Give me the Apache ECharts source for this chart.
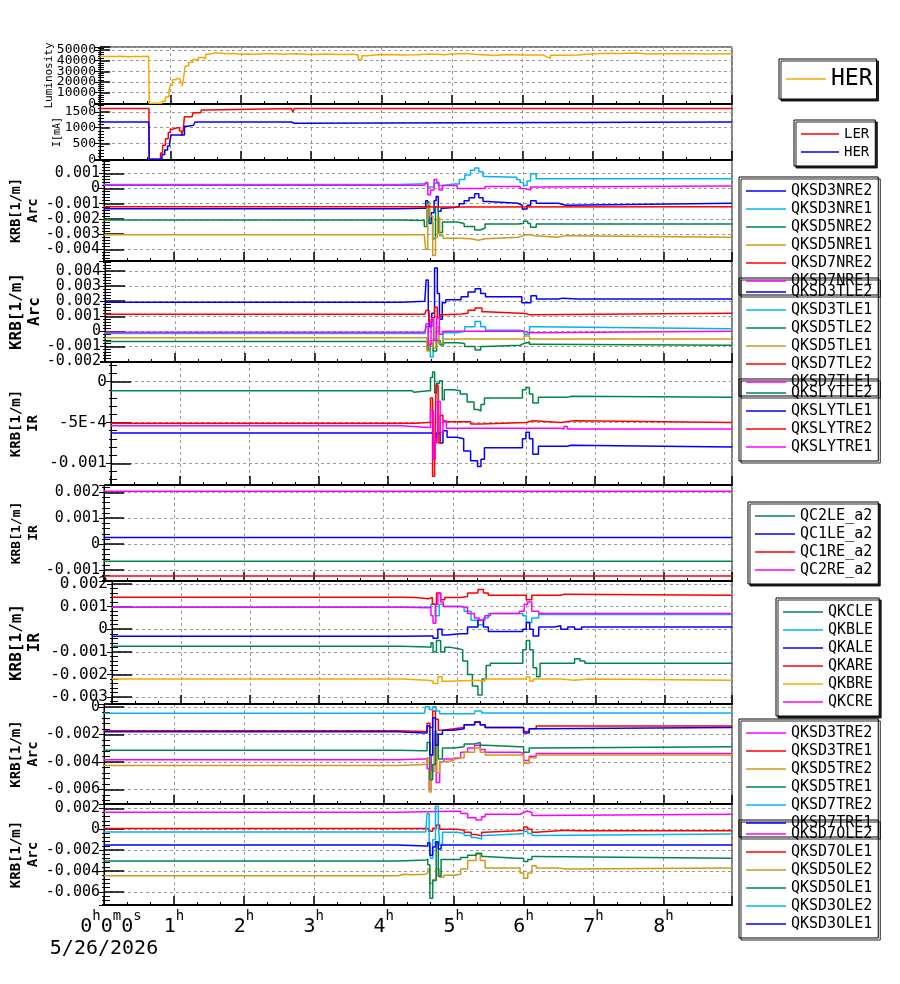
<!DOCTYPE html>
<html><head><meta charset="utf-8">
<script src="https://cdn.jsdelivr.net/npm/echarts@6/dist/echarts.min.js"></script>
<style>html,body{margin:0;padding:0;background:#fff}#c{width:900px;height:984px}</style>
</head><body><div id="c"></div>
<script>
// ---------------- DATA (time in hours, values as read) ----------------
const dateLabel = '5/26/2026';
const xMaxHours = 8.98;

// Panel 1: Luminosity
const lumHER = [[0,44000],[0.1,43800],[0.2,44100],[0.3,43600],[0.4,44000],[0.5,43900],[0.6,44100],[0.69,44000],[0.70,0],[0.84,0],[0.88,2000],[0.93,6000],[0.98,12000],[1.0,17000],[1.03,22000],[1.07,23500],[1.1,22500],[1.14,19000],[1.17,16000],[1.19,25000],[1.21,35000],[1.26,38500],[1.32,41000],[1.4,43000],[1.46,42000],[1.5,46000],[1.55,47500],[1.65,46500],[1.8,46800],[1.9,46000],[2.0,46300],[2.1,46000],[2.2,46700],[2.4,46100],[2.6,46500],[2.8,45800],[3.0,46200],[3.2,45800],[3.4,45900],[3.6,45200],[3.67,41000],[3.72,44500],[3.8,45500],[3.95,45800],[4.1,45200],[4.3,45600],[4.5,46200],[4.7,45500],[4.9,46300],[5.0,46700],[5.2,45800],[5.35,45300],[5.5,44900],[5.6,45800],[5.8,45200],[6.0,45400],[6.2,45300],[6.3,43800],[6.34,42200],[6.4,45000],[6.6,45300],[6.8,46000],[6.9,47000],[7.2,46600],[7.4,47200],[7.6,46300],[7.8,46500],[8.0,46800],[8.3,46200],[8.6,46500],[8.98,46300]];

// Panel 2: Beam currents [mA]
const curLER = [[0,1610],[0.695,1610],[0.70,0],[0.83,0],[0.86,200],[0.89,450],[0.93,650],[0.97,850],[1.0,950],[1.03,1000],[1.1,1000],[1.13,900],[1.16,750],[1.18,900],[1.2,1350],[1.31,1350],[1.32,1470],[1.43,1470],[1.44,1560],[1.52,1610],[2.72,1610],[2.74,1500],[2.76,1610],[8.98,1610]];
const curHER = [[0,1180],[0.69,1180],[0.695,950],[0.70,0],[0.85,0],[0.88,150],[0.92,300],[0.96,420],[0.99,550],[1.01,770],[1.17,770],[1.2,1050],[1.25,1080],[1.33,1100],[1.35,1180],[2.72,1180],[2.74,1140],[2.76,1180],[8.98,1180]];

// Panel 3: Arc QKSD*NRE
const QKSD3NRE2 = [[0,-0.00133],[4.22,-0.0013],[4.55,-0.0013],[4.6,-0.0008],[4.63,-0.0019],[4.65,-0.0023],[4.68,-0.0016],[4.72,-0.0008],[4.75,-0.00053],[4.78,-0.0015],[4.82,-0.0013],[4.86,-0.00125],[5.0,-0.0012],[5.08,-0.001],[5.15,-0.0008],[5.22,-0.0006],[5.3,-0.00035],[5.36,-0.0006],[5.42,-0.00085],[5.48,-0.00097],[5.92,-0.0011],[5.98,-0.00134],[6.05,-0.0011],[6.1,-0.0008],[6.18,-0.00097],[6.5,-0.0011],[6.6,-0.00105],[6.62,-0.00097],[8.98,-0.00097]];
const QKSD3NRE1 = [[0,0.00027],[4.22,0.00031],[4.6,0.00031],[4.63,0.0001],[4.68,0.0001],[4.72,0.00035],[4.78,0.0002],[4.85,0.0003],[5.0,0.0003],[5.08,0.0006],[5.16,0.0009],[5.24,0.0012],[5.3,0.00136],[5.36,0.0011],[5.42,0.0008],[5.46,0.00074],[5.9,0.0006],[5.95,0.0004],[6.0,0.0002],[6.05,0.0005],[6.1,0.00097],[6.18,0.00064],[8.98,0.00064]];
const QKSD5NRE2 = [[0,-0.00207],[4.22,-0.0021],[4.58,-0.0025],[4.62,-0.0009],[4.65,-0.0022],[4.7,-0.0033],[4.74,-0.0012],[4.78,-0.0029],[4.84,-0.0022],[5.05,-0.0023],[5.15,-0.0025],[5.3,-0.00273],[5.38,-0.0026],[5.45,-0.00234],[5.92,-0.0023],[6.0,-0.00215],[6.06,-0.0023],[6.1,-0.00254],[6.18,-0.00234],[8.98,-0.00234]];
const QKSD5NRE1 = [[0,-0.00304],[4.58,-0.00304],[4.6,-0.004],[4.63,-0.001],[4.66,-0.0018],[4.7,-0.0044],[4.74,-0.0032],[4.77,-0.0019],[4.8,-0.0031],[4.85,-0.00328],[5.1,-0.0033],[5.25,-0.0034],[5.35,-0.0033],[5.45,-0.0032],[5.92,-0.0031],[6.0,-0.00303],[6.08,-0.0031],[6.15,-0.0032],[6.5,-0.0031],[6.6,-0.0032],[8.98,-0.0032]];
const QKSD7NRE2 = [[0,-0.0012],[4.6,-0.0012],[4.64,-0.00122],[4.7,-0.0012],[8.98,-0.0012]];
const QKSD7NRE1 = [[0,0.00022],[4.58,0.00022],[4.6,0.0004],[4.63,-0.0004],[4.67,-0.0001],[4.72,0.0006],[4.76,0.0004],[4.79,-0.0001],[4.84,0.0002],[5.05,0.0],[5.45,0.00014],[5.95,0.0],[6.02,-0.0001],[6.1,0.0001],[6.18,0.00016],[8.98,0.00016]];

// Panel 4: Arc QKSD*TLE
const QKSD3TLE2 = [[0,0.00193],[4.25,0.002],[4.58,0.002],[4.6,0.0034],[4.63,0.0015],[4.65,0.0003],[4.68,0.0012],[4.72,0.0042],[4.76,0.0025],[4.79,0.0008],[4.83,0.0019],[4.88,0.0021],[5.0,0.0021],[5.1,0.0023],[5.2,0.0026],[5.3,0.00283],[5.38,0.0025],[5.45,0.0023],[5.9,0.0023],[5.97,0.0019],[6.03,0.0019],[6.1,0.00235],[6.18,0.00215],[6.5,0.0022],[6.55,0.00215],[6.78,0.0022],[6.8,0.00215],[8.98,0.00215]];
const QKSD3TLE1 = [[0,-0.00015],[4.58,-0.00015],[4.6,0.0003],[4.63,-0.0012],[4.66,-0.0017],[4.7,-0.0005],[4.74,0.0],[4.78,-0.0008],[4.84,-0.0001],[5.05,0.0],[5.15,0.0003],[5.3,0.00065],[5.38,0.0003],[5.45,0.00007],[5.95,0.0],[6.0,-0.0002],[6.08,0.0003],[6.18,0.00017],[8.98,0.00017]];
const QKSD5TLE2 = [[0,-0.00068],[4.58,-0.00068],[4.62,-0.0012],[4.66,-0.0008],[4.7,-0.0013],[4.75,-0.0006],[4.8,-0.0009],[4.85,-0.00075],[5.05,-0.0008],[5.15,-0.001],[5.3,-0.00124],[5.38,-0.001],[5.45,-0.00092],[5.95,-0.0008],[6.0,-0.0007],[6.08,-0.00085],[6.18,-0.00092],[8.98,-0.00092]];
const QKSD5TLE1 = [[0,-0.00042],[4.58,-0.00042],[4.61,-0.0013],[4.65,-0.0006],[4.7,-0.0011],[4.74,0.0003],[4.78,-0.0008],[4.84,-0.0005],[5.95,-0.0005],[6.0,-0.0003],[6.08,-0.0005],[8.98,-0.0005]];
const QKSD7TLE2 = [[0,0.00113],[4.58,0.00113],[4.6,0.0014],[4.64,0.0006],[4.68,0.0009],[4.72,0.0016],[4.76,0.0009],[4.8,0.0011],[4.85,0.00115],[5.1,0.0012],[5.2,0.0014],[5.3,0.00155],[5.4,0.0013],[5.45,0.0012],[5.95,0.0012],[6.0,0.0011],[6.08,0.0012],[8.98,0.0012]];
const QKSD7TLE1 = [[0,-0.00006],[4.58,-0.00006],[4.6,0.0005],[4.63,-0.0009],[4.67,0.0008],[4.71,-0.0006],[4.75,0.0009],[4.79,-0.0002],[4.84,0.0],[5.95,0.0],[6.0,-0.0001],[6.08,0.0],[8.98,0.0]];

// Panel 5: IR QKSLY*
const QKSLYTLE2 = [[0,-0.00011],[4.35,-0.00013],[4.38,-0.00011],[4.59,-0.00011],[4.62,0.00005],[4.65,0.00012],[4.68,-0.00014],[4.71,-0.00002],[4.75,0.00001],[4.79,-0.00022],[4.82,-0.0001],[4.95,-0.00011],[5.05,-0.00015],[5.15,-0.00025],[5.25,-0.00034],[5.3,-0.00036],[5.35,-0.00028],[5.4,-0.0002],[5.9,-0.0002],[5.95,-0.0001],[6.0,-0.00007],[6.05,-0.00015],[6.1,-0.00026],[6.18,-0.00019],[6.6,-0.00018],[6.65,-0.00019],[8.98,-0.00019]];
const QKSLYTLE1 = [[0,-0.00063],[4.35,-0.00065],[4.37,-0.00063],[4.6,-0.00063],[4.66,-0.00075],[4.7,-0.00063],[4.76,-0.00075],[4.8,-0.0006],[4.86,-0.00068],[5.0,-0.0007],[5.1,-0.00085],[5.2,-0.00097],[5.3,-0.00104],[5.35,-0.00095],[5.4,-0.00081],[5.9,-0.00081],[5.95,-0.0007],[6.0,-0.00062],[6.05,-0.0007],[6.1,-0.00089],[6.18,-0.00079],[6.6,-0.00078],[6.65,-0.0008],[8.98,-0.00079]];
const QKSLYTRE2 = [[0,-0.00051],[4.4,-0.0005],[4.59,-0.0005],[4.62,-0.0002],[4.65,-0.00116],[4.68,-0.0009],[4.7,-0.00004],[4.73,-0.00075],[4.76,-0.00041],[4.8,-0.00049],[5.2,-0.00052],[5.35,-0.0005],[6.0,-0.00048],[6.1,-0.0005],[6.5,-0.00048],[6.7,-0.0005],[8.98,-0.0005]];
const QKSLYTRE1 = [[0,-0.00054],[4.2,-0.00056],[4.59,-0.00056],[4.62,-0.00035],[4.66,-0.00095],[4.69,-0.0007],[4.72,-0.00024],[4.76,-0.00062],[4.8,-0.00048],[4.85,-0.00057],[6.5,-0.00058],[6.55,-0.00055],[6.6,-0.00058],[8.98,-0.00057]];

// Panel 6: IR QC*_a2
const QC2LE_a2 = [[0,-0.00066],[8.98,-0.00066]];
const QC1LE_a2 = [[0,0.00026],[8.98,0.00026]];
const QC1RE_a2 = [[0,-0.00123],[8.98,-0.00123]];
const QC2RE_a2 = [[0,0.00204],[8.98,0.00204]];

// Panel 7: IR QK*
const QKCLE = [[0,-0.00075],[4.2,-0.00078],[4.58,-0.0008],[4.62,-0.0006],[4.65,-0.001],[4.7,-0.0005],[4.76,-0.001],[4.82,-0.0008],[4.9,-0.00085],[5.0,-0.0009],[5.08,-0.0014],[5.15,-0.002],[5.22,-0.0025],[5.3,-0.0029],[5.36,-0.0022],[5.42,-0.0016],[5.48,-0.0015],[5.9,-0.0015],[5.95,-0.0009],[6.0,-0.0005],[6.05,-0.0009],[6.1,-0.0017],[6.15,-0.0021],[6.2,-0.0015],[6.65,-0.0015],[6.7,-0.0013],[6.78,-0.0014],[6.85,-0.0015],[8.98,-0.0015]];
const QKBLE = [[0,0.00097],[4.58,0.00097],[4.62,0.0011],[4.68,0.0006],[4.74,0.0011],[4.8,0.001],[5.0,0.001],[5.1,0.0008],[5.2,0.0004],[5.3,0.0002],[5.38,0.0005],[5.45,0.0007],[5.95,0.0006],[6.0,0.0003],[6.08,0.0005],[6.18,0.00065],[8.98,0.00065]];
const QKALE = [[0,-0.00031],[4.2,-0.0003],[4.58,-0.0003],[4.65,-0.0004],[4.72,0.0],[4.78,-0.00025],[4.85,-0.0002],[5.05,-0.0002],[5.15,0.0001],[5.3,0.0004],[5.38,0.0001],[5.45,-0.0001],[5.95,0.0],[6.0,0.0003],[6.05,0.0],[6.1,-0.0003],[6.18,0.0001],[6.4,0.00015],[6.5,0.0],[6.6,0.0001],[6.7,0.0],[6.8,0.0001],[8.98,0.0001]];
const QKARE = [[0,0.00141],[4.2,0.0014],[4.4,0.00135],[4.58,0.0014],[4.64,0.0011],[4.7,0.0016],[4.76,0.0013],[4.82,0.0014],[5.05,0.00145],[5.15,0.0016],[5.3,0.00175],[5.38,0.0016],[5.45,0.0015],[5.95,0.0015],[6.0,0.0013],[6.08,0.0015],[6.5,0.00155],[6.55,0.0015],[8.98,0.0015]];
const QKBRE = [[0,-0.0022],[4.2,-0.00225],[4.58,-0.0023],[4.65,-0.0024],[4.72,-0.0021],[4.78,-0.0023],[4.85,-0.00225],[5.3,-0.0023],[5.4,-0.0022],[6.0,-0.0021],[6.05,-0.0023],[6.1,-0.0022],[6.5,-0.00225],[6.7,-0.0022],[6.9,-0.00225],[8.98,-0.00225]];
const QKCRE = [[0,0.00097],[4.2,0.00095],[4.58,0.00097],[4.62,0.0006],[4.65,0.00026],[4.69,0.0011],[4.72,0.0016],[4.76,0.0012],[4.8,0.001],[5.05,0.00095],[5.15,0.0007],[5.25,0.0005],[5.32,0.0004],[5.4,0.0006],[5.48,0.0007],[5.9,0.0008],[5.97,0.0011],[6.02,0.0012],[6.08,0.0008],[6.18,0.0007],[8.98,0.0007]];

// Panel 8: Arc QKSD*TRE
const QKSD3TRE2 = [[0,-0.00386],[4.2,-0.0038],[4.58,-0.0038],[4.62,-0.0045],[4.65,-0.006],[4.68,-0.0035],[4.72,-0.0025],[4.75,-0.0055],[4.8,-0.004],[4.86,-0.0038],[5.0,-0.0037],[5.1,-0.0033],[5.2,-0.003],[5.3,-0.0028],[5.38,-0.0031],[5.45,-0.0033],[5.95,-0.0034],[6.0,-0.0039],[6.08,-0.0036],[6.18,-0.0034],[8.98,-0.0034]];
const QKSD3TRE1 = [[0,-0.00174],[4.2,-0.0018],[4.58,-0.0018],[4.62,-0.0012],[4.66,-0.0015],[4.7,-0.0003],[4.74,-0.0009],[4.78,-0.0017],[4.84,-0.0016],[5.0,-0.0015],[5.15,-0.0013],[5.3,-0.0011],[5.38,-0.0013],[5.45,-0.0015],[5.95,-0.0015],[6.0,-0.0018],[6.08,-0.0016],[6.18,-0.0014],[8.98,-0.0014]];
const QKSD5TRE2 = [[0,-0.00428],[4.2,-0.0042],[4.58,-0.0042],[4.62,-0.0037],[4.65,-0.0062],[4.68,-0.0047],[4.72,-0.0018],[4.76,-0.0048],[4.8,-0.004],[4.86,-0.0039],[5.0,-0.0037],[5.15,-0.0033],[5.3,-0.003],[5.38,-0.0033],[5.45,-0.0035],[5.95,-0.0035],[6.0,-0.0041],[6.08,-0.0037],[6.18,-0.0035],[8.98,-0.0035]];
const QKSD5TRE1 = [[0,-0.00316],[4.2,-0.0032],[4.58,-0.0032],[4.62,-0.0026],[4.66,-0.0053],[4.7,-0.0042],[4.74,-0.002],[4.78,-0.0038],[4.84,-0.003],[5.0,-0.0029],[5.15,-0.0027],[5.3,-0.0026],[5.38,-0.0028],[5.45,-0.0029],[5.95,-0.0029],[6.0,-0.0033],[6.08,-0.003],[6.18,-0.0029],[8.98,-0.0029]];
const QKSD7TRE2 = [[0,-0.00048],[4.58,-0.00048],[4.6,0.0],[4.65,-0.0002],[4.7,0.0],[4.75,-0.0003],[4.8,-0.0005],[5.0,-0.0005],[5.3,-0.0003],[5.4,-0.00045],[8.98,-0.00045]];
const QKSD7TRE1 = [[0,-0.00181],[4.2,-0.0019],[4.58,-0.0019],[4.62,-0.0014],[4.66,-0.0035],[4.7,-0.0008],[4.74,-0.0028],[4.78,-0.002],[4.84,-0.0017],[5.0,-0.0016],[5.15,-0.0013],[5.3,-0.0011],[5.38,-0.0013],[5.45,-0.0015],[5.95,-0.0015],[6.0,-0.0019],[6.08,-0.0016],[6.18,-0.0015],[8.98,-0.0015]];

// Panel 9: Arc QKSD*OLE
const QKSD7OLE2 = [[0,0.00162],[4.21,0.00172],[5.02,0.00172],[5.1,0.0015],[5.2,0.0011],[5.32,0.00089],[5.4,0.0012],[5.45,0.00143],[5.9,0.00143],[5.95,0.0016],[6.0,0.00174],[6.05,0.0016],[6.12,0.0013],[6.18,0.00143],[8.98,0.00143]];
const QKSD7OLE1 = [[0,0.00006],[4.6,0.00006],[4.64,-0.0002],[4.7,0.0001],[4.75,0.0004],[4.8,0.0],[5.05,-0.0001],[5.15,-0.0003],[5.25,-0.0005],[5.32,-0.00064],[5.4,-0.0003],[5.45,-0.00015],[5.9,-0.0001],[6.0,0.0002],[6.06,0.0],[6.12,-0.0003],[6.18,-0.00016],[6.5,-0.0001],[6.55,-0.00016],[6.78,-0.0001],[6.8,-0.00016],[8.98,-0.00016]];
const QKSD5OLE2 = [[0,-0.00445],[4.2,-0.0043],[4.3,-0.00435],[4.4,-0.0043],[4.6,-0.0042],[4.63,-0.0038],[4.66,-0.0052],[4.7,-0.0048],[4.75,-0.0038],[4.8,-0.0046],[4.86,-0.0044],[5.0,-0.0043],[5.1,-0.0038],[5.2,-0.003],[5.32,-0.0024],[5.38,-0.003],[5.45,-0.0037],[5.9,-0.0037],[5.95,-0.0042],[6.0,-0.0047],[6.06,-0.0042],[6.12,-0.0035],[6.18,-0.0037],[6.5,-0.0038],[6.6,-0.0037],[8.98,-0.0037]];
const QKSD5OLE1 = [[0,-0.00305],[4.2,-0.00295],[4.6,-0.0029],[4.63,-0.0034],[4.66,-0.0066],[4.7,-0.0049],[4.75,-0.0013],[4.78,-0.0045],[4.82,-0.0029],[5.0,-0.0029],[5.1,-0.0027],[5.2,-0.0025],[5.32,-0.0023],[5.4,-0.0026],[5.45,-0.00277],[5.9,-0.00277],[6.0,-0.0031],[6.06,-0.0029],[6.12,-0.0026],[6.18,-0.00277],[8.98,-0.00277]];
const QKSD3OLE2 = [[0,-0.00026],[4.6,-0.00026],[4.62,0.0015],[4.65,-0.0011],[4.67,-0.0028],[4.7,-0.001],[4.74,0.0022],[4.78,0.0005],[4.8,-0.0015],[4.84,-0.0003],[5.05,-0.0004],[5.15,-0.0006],[5.25,-0.0008],[5.32,-0.00093],[5.4,-0.0006],[5.45,-0.00045],[5.9,-0.0004],[6.0,-0.0002],[6.06,-0.0004],[6.12,-0.0006],[6.18,-0.00045],[8.98,-0.00045]];
const QKSD3OLE1 = [[0,-0.00152],[4.2,-0.0016],[4.6,-0.0016],[4.63,-0.0013],[4.66,-0.0025],[4.7,-0.0017],[4.74,-0.0012],[4.78,-0.0019],[4.82,-0.0015],[8.98,-0.0015]];

// Series names per panel
const P1_NAMES = ['HER'];
const P2_NAMES = ['LER','HER '];
const P3_NAMES = ['QKSD3NRE2','QKSD3NRE1','QKSD5NRE2','QKSD5NRE1','QKSD7NRE2','QKSD7NRE1'];
const P4_NAMES = ['QKSD3TLE2','QKSD3TLE1','QKSD5TLE2','QKSD5TLE1','QKSD7TLE2','QKSD7TLE1'];
const P5_NAMES = ['QKSLYTLE2','QKSLYTLE1','QKSLYTRE2','QKSLYTRE1'];
const P6_NAMES = ['QC2LE_a2','QC1LE_a2','QC1RE_a2','QC2RE_a2'];
const P7_NAMES = ['QKCLE','QKBLE','QKALE','QKARE','QKBRE','QKCRE'];
const P8_NAMES = ['QKSD3TRE2','QKSD3TRE1','QKSD5TRE2','QKSD5TRE1','QKSD7TRE2','QKSD7TRE1'];
const P9_NAMES = ['QKSD7OLE2','QKSD7OLE1','QKSD5OLE2','QKSD5OLE1','QKSD3OLE2','QKSD3OLE1'];

const P_DATA = [
  [lumHER],
  [curLER, curHER],
  [QKSD3NRE2,QKSD3NRE1,QKSD5NRE2,QKSD5NRE1,QKSD7NRE2,QKSD7NRE1],
  [QKSD3TLE2,QKSD3TLE1,QKSD5TLE2,QKSD5TLE1,QKSD7TLE2,QKSD7TLE1],
  [QKSLYTLE2,QKSLYTLE1,QKSLYTRE2,QKSLYTRE1],
  [QC2LE_a2,QC1LE_a2,QC1RE_a2,QC2RE_a2],
  [QKCLE,QKBLE,QKALE,QKARE,QKBRE,QKCRE],
  [QKSD3TRE2,QKSD3TRE1,QKSD5TRE2,QKSD5TRE1,QKSD7TRE2,QKSD7TRE1],
  [QKSD7OLE2,QKSD7OLE1,QKSD5OLE2,QKSD5OLE1,QKSD3OLE2,QKSD3OLE1]
];
const P_NAMES = [P1_NAMES,P2_NAMES,P3_NAMES,P4_NAMES,P5_NAMES,P6_NAMES,P7_NAMES,P8_NAMES,P9_NAMES];

// Axis titles and ranges
const yTitles = ['Luminosity','I[mA]','KRB[1/m]\nArc','KRB[1/m]\nArc','KRB[1/m]\nIR','KRB[1/m]\nIR','KRB[1/m]\nIR','KRB[1/m]\nArc','KRB[1/m]\nArc'];
const yMin = [-650,-20,-0.00477,-0.00203,-0.001266,-0.00142,-0.0033,-0.00707,-0.00725];
const yMax = [52800,1750,0.00188,0.00466,0.000241,0.00228,0.00213,0.0002,0.00241];
const yStep = [10000,500,0.001,0.001,0.0005,0.001,0.001,0.002,0.002];

// ---------------- STYLE / LAYOUT ----------------
const COL = {blue:'#0000ff', cyan:'#00b4f0', green:'#00854a', gold:'#cc9a1a', red:'#ff0000', magenta:'#ff00ff', orange:'#f5a800'};
const P_COLORS = [
  [COL.orange],
  [COL.red, COL.blue],
  [COL.blue,COL.cyan,COL.green,COL.gold,COL.red,COL.magenta],
  [COL.blue,COL.cyan,COL.green,COL.gold,COL.red,COL.magenta],
  [COL.green,COL.blue,COL.red,COL.magenta],
  [COL.green,COL.blue,COL.red,COL.magenta],
  [COL.green,COL.cyan,COL.blue,COL.red,COL.orange,COL.magenta],
  [COL.magenta,COL.red,COL.gold,COL.green,COL.cyan,COL.blue],
  [COL.magenta,COL.red,COL.gold,COL.green,COL.cyan,COL.blue]
];
const MONO = 'DejaVu Sans Mono';
const gTop = [47,104,160,261,362,485,581,704,804];
const gH = [57,56,101,101,123,96,123,100,101];
const labelSize = [13,13,15,15,16,15,16,15,15];
const nameSize = [11,10,13.5,16,14,13,16,14,14];
const nameGap = [42,34,62,61,69,62,68,62,62];
const nameBold = [false,false,true,true,true,true,true,true,true];
const majorLen = [10,10,20,20,20,20,20,20,20];
const minorLen = [4,4,6,6,6,6,6,6,6];
const legendPos = [[779,59],[794,120],[739,177],[739,278],[739,379],[748,502],[776,598],[739,719],[739,820]];
const legendFont = [23,14,15,15,15,15,15,15,15];
const legendBg = ['#fff','#fff','transparent','transparent','transparent','#fff','#fff','transparent','transparent'];

function isMultiple(v, s){ const r = v/s; return Math.abs(r - Math.round(r)) < 1e-6; }
function fmtY(v, s){
  if (!isMultiple(v, s)) return '';
  if (Math.abs(v) < 1e-12) return '0';
  if (Math.abs(v) >= 1) return String(Math.round(v));
  const k = v*1000;
  if (Math.abs(k - Math.round(k)) < 1e-6) return v.toFixed(3);
  return Number(v.toPrecision(4)).toExponential().toUpperCase();
}
function fmtX(v){
  if (Math.abs(v - Math.round(v)) > 1e-6) return '';
  const h = Math.round(v);
  if (h === 0) return '{pad|}{d|0}{s|h}{d|0}{s|m}{d|0}{s|s}\n{dt|' + dateLabel + '}';
  return '{d|' + h + '}{s|h}';
}

const grids=[], xAxes=[], yAxes=[], series=[], legends=[];
for (let i=0;i<9;i++){
  grids.push({left:100, right:168, top:gTop[i], height:gH[i], show:true, borderColor:'#000', borderWidth:1, backgroundColor:'transparent'});
  const last = i===8;
  xAxes.push({
    type:'value', gridIndex:i, min:0, max:xMaxHours, interval:1,
    axisLine:{show:true, onZero:false, lineStyle:{color:'#000', width:2}},
    axisTick:{show:true, inside:true, length:9, lineStyle:{color:'#000', width:1.5}},
    minorTick:{show:true, splitNumber:3, length:3, lineStyle:{color:'#000', width:1}},
    splitLine:{show:true, lineStyle:{color:'#9a9a9a', type:[3,3], width:1}},
    axisLabel:{show:last, margin:4, color:'#000', fontFamily:MONO, align:'center', formatter:fmtX,
      rich:{
        pad:{width:14, align:'center'},
        d:{fontSize:20, fontFamily:MONO, color:'#000', lineHeight:28, verticalAlign:'bottom', align:'center'},
        s:{fontSize:14, fontFamily:MONO, color:'#000', lineHeight:12, verticalAlign:'top', align:'center'},
        dt:{fontSize:20, fontFamily:MONO, color:'#000', lineHeight:24, align:'center'}
      }}
  });
  const s = yStep[i];
  yAxes.push({
    type:'value', gridIndex:i, position:'left', min:yMin[i], max:yMax[i],
    minInterval:s, maxInterval:s, splitNumber:5,
    name:yTitles[i], nameLocation:'middle', nameRotate:90, nameGap:nameGap[i], nameMoveOverlap:false,
    nameTextStyle:{fontFamily:MONO, fontSize:nameSize[i], fontWeight:nameBold[i]?'bold':'normal', color:'#000', lineHeight:nameSize[i]>14?18:17},
    axisLine:{show:true, onZero:false, lineStyle:{color:'#000', width:1}},
    axisTick:{show:true, inside:true, length:majorLen[i], lineStyle:{color:'#000', width:1.5}},
    minorTick:{show:true, splitNumber:5, length:minorLen[i], lineStyle:{color:'#000', width:1}},
    splitLine:{show:true, lineStyle:{color:'#9a9a9a', type:[3,3], width:1}},
    axisLabel:{show:true, margin:4, color:'#000', fontFamily:MONO, fontSize:labelSize[i], formatter:(v)=>fmtY(v,s)}
  });
  const names = P_NAMES[i];
  names.forEach((nm, j) => {
    series.push({
      type:'line', name:nm, xAxisIndex:i, yAxisIndex:i, data:P_DATA[i][j], step:'end',
      symbol:'none', color:P_COLORS[i][j], lineStyle:{color:P_COLORS[i][j], width:1.5},
      animation:false, silent:true, clip:true
    });
  });
  legends.push({
    show:true, orient:'vertical', left:legendPos[i][0], top:legendPos[i][1],
    data:names.slice(), selectedMode:false, icon:'rect',
    itemWidth: i===1 ? 38 : 40, itemHeight:1.6, itemGap:0,
    padding: i===0 ? [6,4,6,7] : [5,6,5,7],
    backgroundColor:legendBg[i], borderColor:'#000', borderWidth:1,
    shadowColor:'rgba(0,0,0,0.85)', shadowOffsetX:2, shadowOffsetY:2, shadowBlur:0,
    formatter:(n)=>n.trim(),
    textStyle:{fontFamily:MONO, fontSize:legendFont[i], color:'#000', lineHeight: i===0 ? 28 : 18}
  });
}
// right-side mirrored tick axes
for (let i=0;i<9;i++){
  const s = yStep[i];
  yAxes.push({
    type:'value', gridIndex:i, position:'right', min:yMin[i], max:yMax[i],
    minInterval:s, maxInterval:s, splitNumber:5,
    axisLine:{show:false}, axisLabel:{show:false}, splitLine:{show:false},
    axisTick:{show:true, inside:true, length:5, lineStyle:{color:'#000', width:1}},
    minorTick:{show:true, splitNumber:5, length:2, lineStyle:{color:'#000', width:1}}
  });
}

const chart = echarts.init(document.getElementById('c'), null, {renderer:'canvas'});
chart.setOption({
  animation:false,
  backgroundColor:'#fff',
  grid:grids, xAxis:xAxes, yAxis:yAxes, series:series, legend:legends
});
</script></body></html>
